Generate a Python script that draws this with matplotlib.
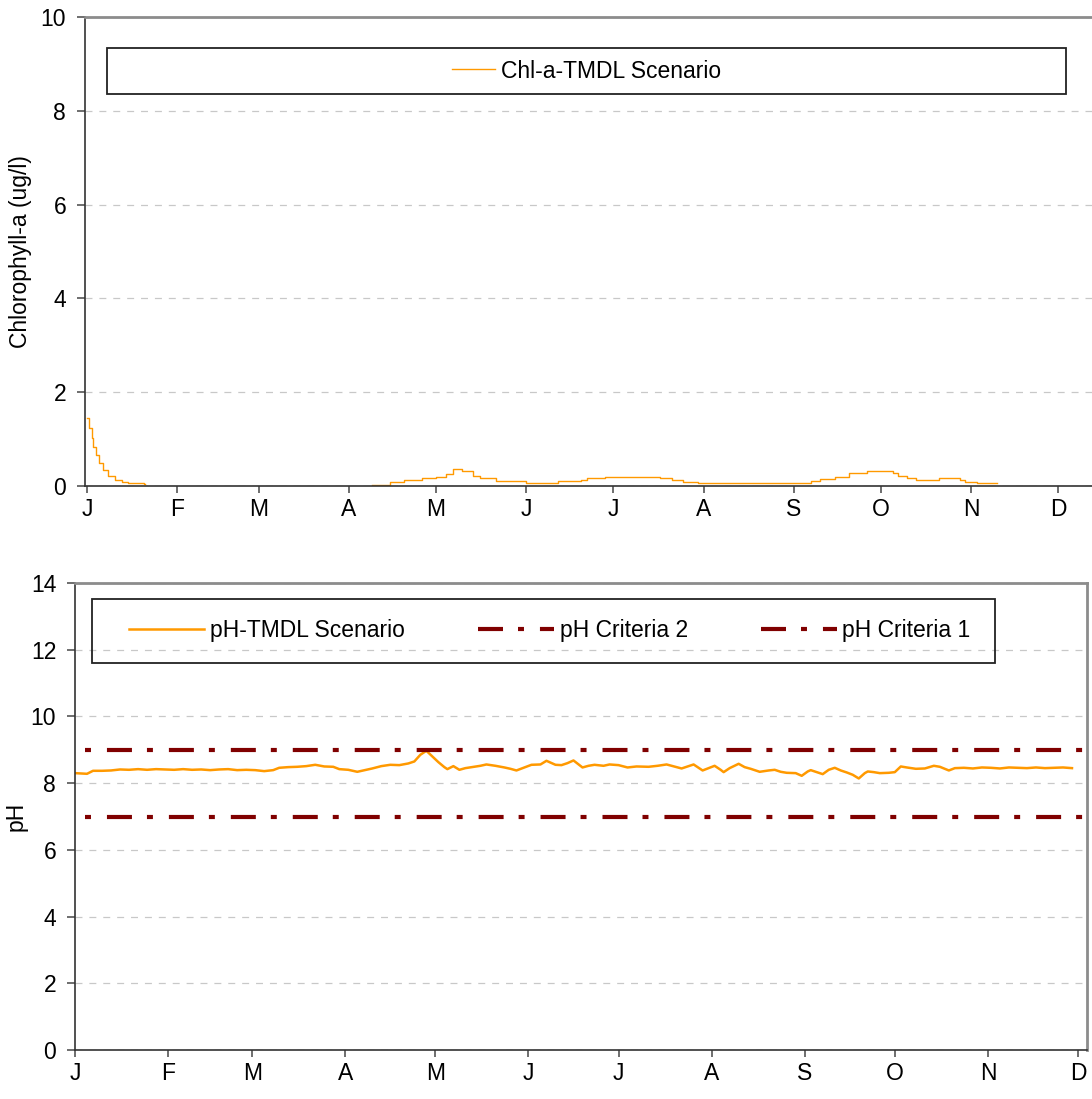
import numpy as np
import matplotlib
matplotlib.use('Agg')
import matplotlib.pyplot as plt
import matplotlib.patches as patches
from matplotlib.lines import Line2D

plt.rcParams['font.family'] = ['Liberation Sans', 'DejaVu Sans']
plt.rcParams['font.size'] = 16.5
plt.rcParams['lines.scale_dashes'] = False

# ---- data ----
month_labels = ['J', 'F', 'M', 'A', 'M', 'J', 'J', 'A', 'S', 'O', 'N', 'D']
month_days = [0, 31, 59, 90, 120, 151, 181, 212, 243, 273, 304, 334]

# Chl-a (ug/l), step series; NaN = gap
chl_days = [0, 0.8, 1.6, 2.2, 3.1, 4.2, 5.6, 7.3, 9.6, 11.9, 14, 19.5, 20,
            98, 104, 109, 115, 120, 123.5, 125.7, 129, 132.6, 135, 140.6, 151,
            162, 170, 172, 178, 197, 201, 205, 210, 249, 252, 257, 262, 268,
            277, 279, 282, 285, 293, 300, 302, 306, 313]
chl_vals = [1.44, 1.23, 1.02, 0.84, 0.66, 0.48, 0.34, 0.21, 0.13, 0.08, 0.06, 0.05, np.nan,
            0.02, 0.09, 0.13, 0.16, 0.20, 0.26, 0.36, 0.31, 0.21, 0.16, 0.10, 0.06,
            0.10, 0.13, 0.17, 0.20, 0.16, 0.13, 0.09, 0.06, 0.10, 0.14, 0.20, 0.27, 0.32,
            0.27, 0.22, 0.18, 0.13, 0.17, 0.13, 0.09, 0.06, 0.06]

# pH TMDL scenario
ph_days = [0, 2, 4, 6, 9, 12, 15, 18, 21, 24, 27, 30, 33, 36, 39, 42, 45, 48, 51, 54,
           57, 60, 63, 66, 68, 71, 74, 77, 80, 83, 86, 88, 91, 94, 96, 99, 102, 105,
           108, 111, 113, 115, 117, 119, 121, 123, 124, 126, 128, 130, 133, 135, 137,
           140, 143, 145, 147, 150, 152, 155, 157, 160, 162, 164, 166, 169, 171, 173,
           176, 178, 181, 184, 187, 191, 194, 197, 200, 202, 204, 206, 208, 209, 211,
           213, 215, 216, 218, 221, 223, 225, 228, 231, 233, 235, 237, 240, 242, 244,
           245, 247, 249, 251, 253, 255, 257, 259, 261, 263, 264, 266, 268, 271, 273,
           275, 277, 280, 283, 286, 288, 291, 293, 296, 299, 302, 305, 308, 311, 314,
           317, 320, 323, 326, 329, 332]
ph_vals = [8.30, 8.29, 8.28, 8.37, 8.37, 8.38, 8.41, 8.40, 8.42, 8.40, 8.42, 8.41, 8.40,
           8.42, 8.40, 8.41, 8.39, 8.41, 8.42, 8.39, 8.40, 8.39, 8.36, 8.39, 8.46, 8.48,
           8.49, 8.51, 8.55, 8.50, 8.49, 8.42, 8.40, 8.34, 8.38, 8.44, 8.51, 8.55, 8.54,
           8.59, 8.65, 8.85, 8.97, 8.80, 8.63, 8.48, 8.42, 8.51, 8.40, 8.45, 8.49, 8.52,
           8.56, 8.52, 8.47, 8.43, 8.38, 8.48, 8.55, 8.56, 8.67, 8.55, 8.54, 8.60, 8.68,
           8.47, 8.52, 8.55, 8.52, 8.56, 8.54, 8.47, 8.50, 8.49, 8.52, 8.56, 8.49, 8.44,
           8.50, 8.56, 8.44, 8.38, 8.45, 8.52, 8.40, 8.33, 8.45, 8.58, 8.48, 8.43, 8.34,
           8.38, 8.40, 8.34, 8.31, 8.30, 8.22, 8.35, 8.39, 8.33, 8.27, 8.40, 8.46, 8.38,
           8.32, 8.25, 8.14, 8.30, 8.35, 8.33, 8.30, 8.31, 8.33, 8.50, 8.47, 8.43, 8.44,
           8.52, 8.49, 8.38, 8.45, 8.46, 8.44, 8.47, 8.46, 8.44, 8.47, 8.46, 8.45, 8.47,
           8.45, 8.46, 8.47, 8.45]

crit_days = [0, 337]
crit2_vals = [9, 9]
crit1_vals = [7, 7]

orange = '#FF9900'
maroon = '#800000'
dash_seq = (18, 10.8, 4.3, 11.5)
dashdot = (21.6, dash_seq)

fig = plt.figure(figsize=(10.92, 10.99), dpi=100)


def style_axes(ax, yticks):
    for s in ['left', 'bottom']:
        ax.spines[s].set_color('#333333')
        ax.spines[s].set_linewidth(1.2)
    for s in ['top', 'right']:
        ax.spines[s].set_color('#8c8c8c')
        ax.spines[s].set_linewidth(2)
    ax.set_xticks(month_days)
    ax.set_xticklabels(month_labels)
    ax.set_yticks(yticks)
    ax.tick_params(axis='x', direction='out', length=5, width=1.2, color='#555555', pad=4)
    ax.tick_params(axis='y', direction='out', length=5.5, width=1.2, color='#555555', pad=8)
    ax.grid(axis='y', color='#c8c8c8', linestyle=(0, (5, 5)), linewidth=0.9)
    ax.set_axisbelow(True)


# ---- top: chlorophyll-a ----
ax1 = fig.add_axes([85 / 1092, 1 - 486 / 1099, 1020 / 1092, 469 / 1099])
ax1.plot(chl_days, chl_vals, color=orange, lw=1.0, drawstyle='steps-post',
         label='Chl-a-TMDL Scenario')
ax1.set_xlim(-0.7, 350)
ax1.set_ylim(0, 10)
style_axes(ax1, [0, 2, 4, 6, 8, 10])
ax1.spines['right'].set_visible(False)
ax1.set_ylabel('Chlorophyll-a (ug/l)')
ax1.yaxis.set_label_coords(-0.052, 0.5)

fig.patches.append(patches.Rectangle((107 / 1092, 1 - 94 / 1099), 959 / 1092, 46 / 1099,
                                     transform=fig.transFigure, fill=False,
                                     edgecolor='#222222', lw=1.3))
ax1.legend(loc='center', bbox_to_anchor=((107 + 959 / 2) / 1092, 1 - 71 / 1099),
           bbox_transform=fig.transFigure, frameon=False, handlelength=1.9,
           handletextpad=0.25)

# ---- bottom: pH ----
ax2 = fig.add_axes([75 / 1092, 1 - 1050 / 1099, 1012 / 1092, 467 / 1099])
ax2.plot(ph_days, ph_vals, color=orange, lw=1.8, label='pH-TMDL Scenario')
ax2.plot(crit_days, crit2_vals, color=maroon, lw=3.0, linestyle=dashdot,
         label='pH Criteria 2')
ax2.plot(crit_days, crit1_vals, color=maroon, lw=3.0, linestyle=dashdot,
         label='pH Criteria 1')
ax2.set_xlim(0, 337)
ax2.set_ylim(0, 14)
style_axes(ax2, [0, 2, 4, 6, 8, 10, 12, 14])
ax2.set_ylabel('pH')
ax2.yaxis.set_label_coords(-0.047, 0.5)

fig.patches.append(patches.Rectangle((92 / 1092, 1 - 663 / 1099), 903 / 1092, 64 / 1099,
                                     transform=fig.transFigure, fill=False,
                                     edgecolor='#222222', lw=1.3))
# legend handles: dash pattern starts on a long dash, as in the original
handles = [Line2D([], [], color=orange, lw=1.8),
           Line2D([], [], color=maroon, lw=3.0, linestyle=(0, dash_seq)),
           Line2D([], [], color=maroon, lw=3.0, linestyle=(0, dash_seq))]
labels = ['pH-TMDL Scenario', 'pH Criteria 2', 'pH Criteria 1']
ax2.legend(handles, labels, loc='center left', bbox_to_anchor=(108 / 1092, 1 - 631 / 1099),
           bbox_transform=fig.transFigure, frameon=False, ncol=3, handlelength=3.3,
           handletextpad=0.25, columnspacing=3.2)

fig.savefig('out.png', dpi=100, facecolor='white')
